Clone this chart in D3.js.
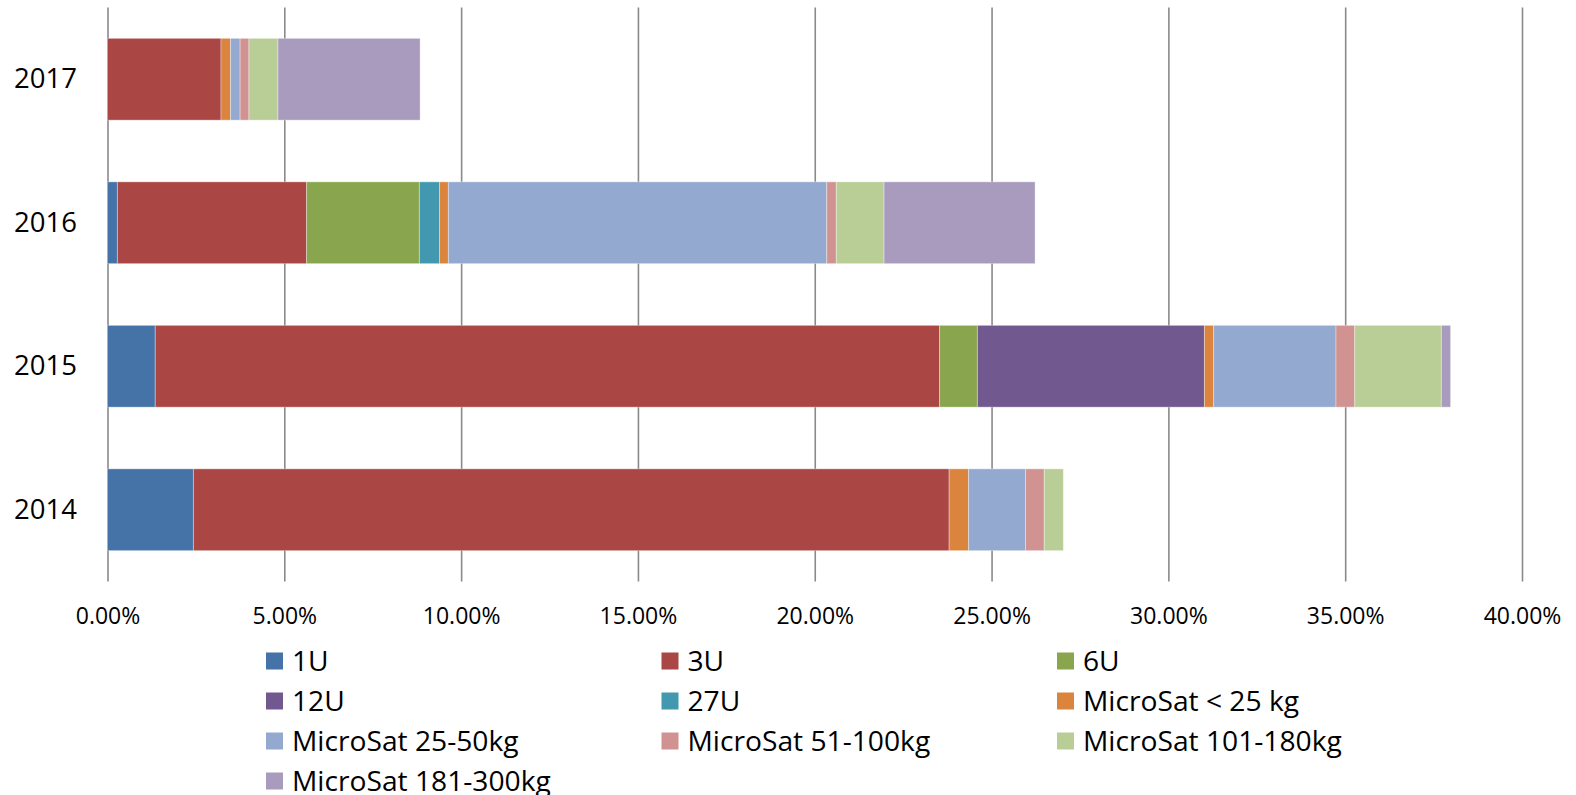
<!DOCTYPE html>
<html>
<head>
<meta charset="utf-8">
<script src="https://cdn.jsdelivr.net/npm/d3@7"></script>
<style>
  html, body { margin: 0; padding: 0; background: #ffffff; }
  svg { display: block; font-family: "Open Sans", "Noto Sans", sans-serif; }
</style>
</head>
<body>
<svg id="chart" width="1576" height="795"></svg>
<script>
// Launch years, top to bottom as drawn
const years = ["2017", "2016", "2015", "2014"];

// Satellite classes (stacking order, left to right)
const classes = [
  "1U", "3U", "6U",
  "12U", "27U", "MicroSat < 25 kg",
  "MicroSat 25-50kg", "MicroSat 51-100kg", "MicroSat 101-180kg",
  "MicroSat 181-300kg"
];

const classColors = [
  "#4572A7", "#AA4643", "#89A54E",
  "#71588F", "#4198AF", "#DB843D",
  "#93A9CF", "#D19392", "#B9CD96",
  "#A99BBD"
];

// Share (%) per class, values in the order of `years`
const s1U       = [0.00, 0.28, 1.35, 2.43];
const s3U       = [3.21, 5.35, 22.18, 21.37];
const s6U       = [0.00, 3.19, 1.07, 0.00];
const s12U      = [0.00, 0.00, 6.42, 0.00];
const s27U      = [0.00, 0.57, 0.00, 0.00];
const sMicro25  = [0.27, 0.25, 0.26, 0.55];
const sMicro50  = [0.27, 10.70, 3.46, 1.61];
const sMicro100 = [0.25, 0.27, 0.53, 0.53];
const sMicro180 = [0.82, 1.35, 2.45, 0.54];
const sMicro300 = [4.02, 4.27, 0.26, 0.00];

const seriesValues = [s1U, s3U, s6U, s12U, s27U, sMicro25, sMicro50, sMicro100, sMicro180, sMicro300];

// Value axis ticks
const tickValues = [0, 5, 10, 15, 20, 25, 30, 35, 40];

// Build the table that d3.stack consumes
const table = years.map((yr, i) => {
  const row = { year: yr };
  classes.forEach((c, k) => { row[c] = seriesValues[k][i]; });
  return row;
});

const svg = d3.select("#chart");

const plot = { left: 107.5, right: 1522, top: 7.5, bottom: 581.5 };

const x = d3.scaleLinear().domain([0, 40]).range([plot.left, plot.right]);
const y = d3.scaleBand().domain(years).range([plot.top, plot.bottom])
  .paddingInner(0.43).paddingOuter(0.215);

const color = d3.scaleOrdinal().domain(classes).range(classColors);

// Vertical gridlines + tick labels
const xAxis = d3.axisBottom(x)
  .tickValues(tickValues)
  .tickSize(-(plot.bottom - plot.top))
  .tickFormat(d => d.toFixed(2) + "%");

const gx = svg.append("g")
  .attr("transform", `translate(0,${plot.bottom})`)
  .call(xAxis);
gx.select(".domain").remove();
gx.selectAll(".tick line")
  .attr("stroke", "#8a8a8a")
  .attr("stroke-width", 1.6);
gx.selectAll(".tick text")
  .attr("y", 34)
  .attr("dy", "0.35em")
  .attr("fill", "#000")
  .style("font-size", "23px")
  .style("font-family", "\"Open Sans\", sans-serif");

// Stacked bars
const stacked = d3.stack().keys(classes)(table);

svg.append("g")
  .selectAll("g")
  .data(stacked)
  .join("g")
  .attr("fill", d => color(d.key))
  .selectAll("rect")
  .data(d => d.filter(p => p[1] - p[0] > 0))
  .join("rect")
  .attr("x", d => x(d[0]))
  .attr("y", d => y(d.data.year))
  .attr("width", d => x(d[1]) - x(d[0]))
  .attr("height", y.bandwidth())
  .attr("stroke", "rgba(255,255,255,0.35)")
  .attr("stroke-width", 1);

// Year labels
const yAxis = d3.axisLeft(y).tickSize(0).tickPadding(0);
const gy = svg.append("g")
  .attr("transform", "translate(77,0)")
  .call(yAxis);
gy.select(".domain").remove();
gy.selectAll(".tick text")
  .attr("fill", "#000")
  .style("font-size", "27.5px")
  .style("font-family", "\"Open Sans\", sans-serif");

// Legend: three columns
const legend = { x0: 266, dx: 395.5, y0: 661, dy: 40, box: 17, gap: 9 };
const li = svg.append("g")
  .selectAll("g")
  .data(classes)
  .join("g")
  .attr("transform", (d, i) => `translate(${legend.x0 + (i % 3) * legend.dx},${legend.y0 + Math.floor(i / 3) * legend.dy})`);

li.append("rect")
  .attr("x", 0)
  .attr("y", -legend.box / 2)
  .attr("width", legend.box)
  .attr("height", legend.box)
  .attr("fill", d => color(d));

li.append("text")
  .attr("x", legend.box + legend.gap)
  .attr("y", 0)
  .attr("dy", "0.35em")
  .attr("fill", "#000")
  .style("font-size", "28.2px")
  .text(d => d);
</script>
</body>
</html>
